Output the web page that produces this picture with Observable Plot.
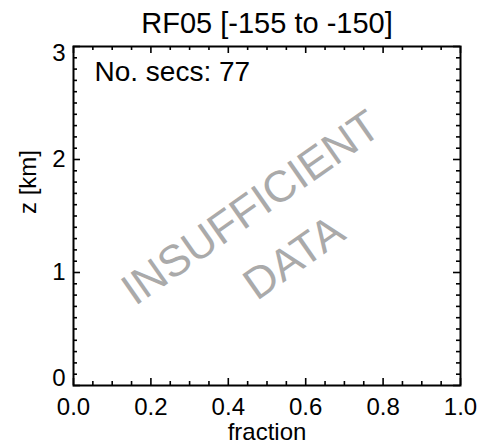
<!DOCTYPE html>
<html>
<head>
<meta charset="utf-8">
<script src="https://cdn.jsdelivr.net/npm/d3@7"></script>
<script src="https://cdn.jsdelivr.net/npm/@observablehq/plot@0.6"></script>
<style>
  html, body { margin: 0; padding: 0; background: #fff; }
</style>
</head>
<body>
<div id="chart"></div>
<script>
// ---- data / labels ----
const titleText = "RF05 [-155 to -150]";
const noteText = "No. secs: 77";
const watermarkLine1 = "INSUFFICIENT";
const watermarkLine2 = "DATA";
const xLabel = "fraction";
const yLabel = "z [km]";
const xDomain = [0, 1];
const yDomain = [0, 3];
const xMajor = [0.0, 0.2, 0.4, 0.6, 0.8, 1.0];
const xMinor = [0.05, 0.1, 0.15, 0.25, 0.3, 0.35, 0.45, 0.5, 0.55, 0.65, 0.7, 0.75, 0.85, 0.9, 0.95];
const yMajor = [0, 1, 2, 3];
const yMinor = [0.1,0.2,0.3,0.4,0.5,0.6,0.7,0.8,0.9,1.1,1.2,1.3,1.4,1.5,1.6,1.7,1.8,1.9,2.1,2.2,2.3,2.4,2.5,2.6,2.7,2.8,2.9];
const yMid = [1, 2];
const yTop = [3];
const yBottom = [0];

// ---- layout ----
const W = 477, H = 444;
const mL = 73, mR = 17, mT = 46, mB = 59;
const innerH = H - mT - mB;
const innerW = W - mL - mR;
const majLen = 7, minLen = 4;
const font = "'Liberation Sans', Arial, Helvetica, sans-serif";
const sw = 1.6;
const mid = "middle";

const chart = Plot.plot({
  width: W, height: H,
  marginLeft: mL, marginRight: mR, marginTop: mT, marginBottom: mB,
  x: {domain: xDomain, axis: null},
  y: {domain: yDomain, axis: null},
  style: {fontFamily: font, background: "#fff", color: "#000", overflow: "visible"},
  marks: [
    // watermark
    Plot.text([watermarkLine1], {text: d => d, frameAnchor: "middle", lineAnchor: mid, dx: -16, dy: -8, rotate: -35, fontSize: 44, fill: "#aaaaaa"}),
    Plot.text([watermarkLine2], {text: d => d, frameAnchor: "middle", lineAnchor: mid, dx: 27, dy: 42, rotate: -35, fontSize: 44, fill: "#aaaaaa"}),
    // ticks bottom
    Plot.ruleX(xMajor, {x: d => d, insetTop: innerH - majLen, stroke: "#000", strokeWidth: sw}),
    Plot.ruleX(xMinor, {x: d => d, insetTop: innerH - minLen, stroke: "#000", strokeWidth: sw}),
    // ticks top
    Plot.ruleX(xMajor, {x: d => d, insetBottom: innerH - majLen, stroke: "#000", strokeWidth: sw}),
    Plot.ruleX(xMinor, {x: d => d, insetBottom: innerH - minLen, stroke: "#000", strokeWidth: sw}),
    // ticks left
    Plot.ruleY(yMajor, {y: d => d, insetRight: innerW - majLen, stroke: "#000", strokeWidth: sw}),
    Plot.ruleY(yMinor, {y: d => d, insetRight: innerW - minLen, stroke: "#000", strokeWidth: sw}),
    // ticks right
    Plot.ruleY(yMajor, {y: d => d, insetLeft: innerW - majLen, stroke: "#000", strokeWidth: sw}),
    Plot.ruleY(yMinor, {y: d => d, insetLeft: innerW - minLen, stroke: "#000", strokeWidth: sw}),
    Plot.frame({stroke: "#000", strokeWidth: 2}),
    // x tick labels
    Plot.text(xMajor, {x: d => d, text: d => d3.format(".1f")(d), frameAnchor: "bottom", lineAnchor: mid, dy: 22, fontSize: 24, fill: "#000"}),
    // y tick labels
    Plot.text(yMid, {y: d => d, text: d => String(d), frameAnchor: "left", lineAnchor: mid, textAnchor: "end", dx: -8, fontSize: 24, fill: "#000"}),
    Plot.text(yTop, {y: d => d, text: d => String(d), frameAnchor: "left", lineAnchor: mid, textAnchor: "end", dx: -8, dy: 7, fontSize: 24, fill: "#000"}),
    Plot.text(yBottom, {y: d => d, text: d => String(d), frameAnchor: "left", lineAnchor: mid, textAnchor: "end", dx: -8, dy: -7, fontSize: 24, fill: "#000"}),
    // axis labels
    Plot.text([xLabel], {text: d => d, frameAnchor: "bottom", lineAnchor: mid, dy: 47, fontSize: 24, fill: "#000"}),
    Plot.text([yLabel], {text: d => d, frameAnchor: "left", lineAnchor: mid, dx: -45, dy: -2, rotate: -90, fontSize: 24, fill: "#000"}),
    // title & note
    Plot.text([titleText], {text: d => d, frameAnchor: "top", lineAnchor: mid, dy: -23, fontSize: 29, fill: "#000"}),
    Plot.text([noteText], {text: d => d, frameAnchor: "top-left", lineAnchor: mid, textAnchor: "start", dx: 21, dy: 26, fontSize: 28, fill: "#000"})
  ]
});
document.getElementById("chart").appendChild(chart);
</script>
</body>
</html>
